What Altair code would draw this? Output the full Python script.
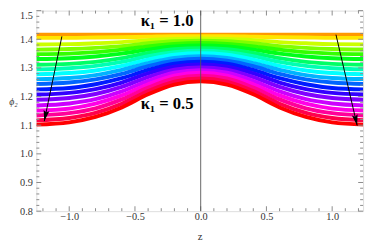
import altair as alt
import pandas as pd

# ---------------- data ----------------
z_half = [0.0, 0.2, 0.4, 0.6, 0.8, 1.0, 1.25]
phi_half = [
    [1.416, 1.416, 1.416, 1.416, 1.416, 1.416, 1.416],
    [1.411, 1.411, 1.409, 1.407, 1.406, 1.405, 1.405],
    [1.403, 1.401, 1.397, 1.390, 1.386, 1.383, 1.382],
    [1.395, 1.393, 1.386, 1.376, 1.370, 1.366, 1.364],
    [1.387, 1.384, 1.375, 1.364, 1.355, 1.350, 1.348],
    [1.378, 1.375, 1.364, 1.350, 1.340, 1.334, 1.331],
    [1.369, 1.365, 1.352, 1.334, 1.321, 1.314, 1.311],
    [1.360, 1.355, 1.341, 1.321, 1.307, 1.299, 1.295],
    [1.351, 1.346, 1.329, 1.307, 1.291, 1.282, 1.278],
    [1.341, 1.335, 1.317, 1.293, 1.275, 1.265, 1.261],
    [1.332, 1.325, 1.306, 1.279, 1.260, 1.249, 1.244],
    [1.322, 1.315, 1.293, 1.264, 1.243, 1.230, 1.225],
    [1.312, 1.304, 1.281, 1.249, 1.226, 1.213, 1.207],
    [1.302, 1.294, 1.268, 1.234, 1.209, 1.195, 1.189],
    [1.292, 1.283, 1.255, 1.218, 1.191, 1.176, 1.169],
    [1.283, 1.273, 1.243, 1.204, 1.175, 1.158, 1.151],
    [1.273, 1.263, 1.231, 1.190, 1.159, 1.142, 1.134],
    [1.263, 1.252, 1.219, 1.175, 1.143, 1.125, 1.117],
    [1.253, 1.242, 1.208, 1.162, 1.129, 1.110, 1.102],
]
curve_colors = [
    "#ff9900", "#ffe600", "#ccff00", "#80ff00", "#33ff00", "#00ff1a",
    "#00ff66", "#00ffb3", "#00ffff", "#00b3ff", "#0066ff", "#001aff",
    "#3300ff", "#8000ff", "#cc00ff", "#ff00e6", "#ff0099", "#ff004d",
    "#ff0000",
]

x_major = [-1.0, -0.5, 0.0, 0.5, 1.0]
x_minor = [-1.2, -1.1, -0.9, -0.8, -0.7, -0.6, -0.4, -0.3, -0.2, -0.1,
           0.1, 0.2, 0.3, 0.4, 0.6, 0.7, 0.8, 0.9, 1.1, 1.2]
y_major = [0.8, 0.9, 1.0, 1.1, 1.2, 1.3, 1.4, 1.5]
y_minor = [0.82, 0.84, 0.86, 0.88, 0.92, 0.94, 0.96, 0.98,
           1.02, 1.04, 1.06, 1.08, 1.12, 1.14, 1.16, 1.18,
           1.22, 1.24, 1.26, 1.28, 1.32, 1.34, 1.36, 1.38,
           1.42, 1.44, 1.46, 1.48]

arrow_z = [-1.056, 1.029]
arrow_phi = [1.410, 1.416]
arrow_tip_z = [-1.190, 1.190]
arrow_tip_phi = [1.114, 1.099]
arrow_angle = [192, 167]

label_text = ["κ₁ = 1.0", "κ₁ = 0.5"]
label_z = [-0.255, -0.255]
label_phi = [1.462, 1.172]

# ---------------- tables ----------------
rows = []
for i, vals in enumerate(phi_half):
    key = f"c{i:02d}"
    zs = [-z for z in reversed(z_half[1:])] + z_half
    vs = list(reversed(vals[1:])) + vals
    for j, (z, v) in enumerate(zip(zs, vs)):
        rows.append({"k": key, "o": j, "z": z, "phi": v})
curves = pd.DataFrame(rows)
keys = [f"c{i:02d}" for i in range(len(phi_half))]

W, H = 334, 205
FRAME = "#8a8a8a"
SERIF = "Liberation Serif"
XDOM = [-1.25, 1.235]
YDOM = [0.8, 1.5]
xs = alt.Scale(domain=XDOM, nice=False, zero=False)
ys = alt.Scale(domain=YDOM, nice=False, zero=False)

xaxis = alt.Axis(values=x_major, ticks=False, domain=False, grid=False,
                 labelOverlap=False,
                 labelExpr="replace(format(datum.value, '.1f'), '-', '−')",
                 labelFont=SERIF, labelFontSize=10.5, labelColor="#333",
                 labelPadding=1, titleFont=SERIF, titleFontSize=11,
                 titleFontWeight="normal", titleColor="#333", titlePadding=8)
yaxis = alt.Axis(values=y_major, format=".1f", ticks=False, domain=False, grid=False,
                 labelOverlap=False,
                 labelBaseline={"condition": {"test": "datum.value > 1.45", "value": "top"},
                                "value": "middle"},
                 labelFont=SERIF, labelFontSize=10.5, labelColor="#333",
                 labelPadding=4, titleFont=SERIF, titleFontSize=10,
                 titleFontWeight="normal", titleFontStyle="italic", titleColor="#333",
                 titleAngle=0, titleX=-24, titleY=93, titleAlign="center",
                 titleBaseline="middle")

def X(field="z"):
    return alt.X(f"{field}:Q", scale=xs, title="z", axis=xaxis)

def Y(field="phi"):
    return alt.Y(f"{field}:Q", scale=ys, title="ϕ₂", axis=yaxis)

lines = alt.Chart(curves).mark_line(strokeWidth=4, interpolate="monotone", clip=True).encode(
    x=X(), y=Y(),
    color=alt.Color("k:N", scale=alt.Scale(domain=keys, range=curve_colors), legend=None),
    order="o:Q",
)

def xticks(vals, length):
    d = pd.DataFrame({"z": vals})
    b = alt.Chart(d).mark_rule(color=FRAME, strokeWidth=1).encode(
        x=X(), y=alt.value(H), y2=alt.value(H - length))
    t = alt.Chart(d).mark_rule(color=FRAME, strokeWidth=1).encode(
        x=X(), y=alt.value(0), y2=alt.value(length))
    return [b, t]

def yticks(vals, length):
    d = pd.DataFrame({"phi": vals})
    l = alt.Chart(d).mark_rule(color=FRAME, strokeWidth=1).encode(
        y=Y(), x=alt.value(0), x2=alt.value(length))
    r = alt.Chart(d).mark_rule(color=FRAME, strokeWidth=1).encode(
        y=Y(), x=alt.value(W), x2=alt.value(W - length))
    return [l, r]

tick_layers = xticks(x_major, 5) + xticks(x_minor, 3) + yticks(y_major, 5) + yticks(y_minor, 3)

zero_line = alt.Chart(pd.DataFrame({"z": [0.0]})).mark_rule(color="#555", strokeWidth=0.9).encode(
    x=X(), y=alt.value(0), y2=alt.value(H))

arrows = pd.DataFrame({"z": arrow_z, "phi": arrow_phi, "z2": arrow_tip_z, "phi2": arrow_tip_phi})
arrow_lines = alt.Chart(arrows).mark_rule(color="black", strokeWidth=1).encode(
    x=X(), y=Y(), x2="z2:Q", y2="phi2:Q")
heads = pd.DataFrame({"z": arrow_tip_z, "phi": arrow_tip_phi, "a": arrow_angle})
arrow_heads = alt.Chart(heads).mark_point(
    shape="M0,0L-0.65,2.4L0,2.0L0.65,2.4Z", filled=True, color="black", opacity=1, size=85
).encode(x=X(), y=Y(), angle=alt.Angle("a:Q", scale=None))

labels = pd.DataFrame({"z": label_z, "phi": label_phi, "t": label_text})
label_layer = alt.Chart(labels).mark_text(
    font=SERIF, fontSize=17, fontWeight="bold", color="black",
    align="center", baseline="middle"
).encode(x=X(), y=Y(), text="t:N")

chart = alt.layer(lines, *tick_layers, zero_line, arrow_lines, arrow_heads, label_layer).properties(
    width=W, height=H,
    autosize=alt.AutoSizeParams(type="none"),
    padding={"left": 29, "top": 0, "right": 3, "bottom": 35},
).configure_view(stroke=FRAME, strokeWidth=1).configure(background="white")

chart.save("out.html", embed_options={"renderer": "svg", "actions": False})
